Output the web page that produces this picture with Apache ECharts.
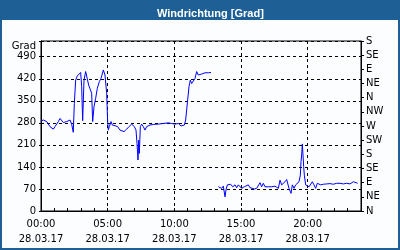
<!DOCTYPE html>
<html>
<head>
<meta charset="utf-8">
<script src="https://cdn.jsdelivr.net/npm/echarts@6/dist/echarts.min.js"></script>
<style>
html,body{margin:0;padding:0;background:#fff;}
#c{width:400px;height:250px;}
</style>
</head>
<body>
<div id="c"></div>
<script>
// Hours since 28.03.17 00:00
var hours = [0,0.175,0.425,0.675,0.8,0.925,1.05,1.175,1.3,1.425,1.55,1.675,1.925,2.175,2.3,2.42,2.5,2.6,2.725,2.85,2.975,3.05,3.125,3.225,3.35,3.475,3.575,3.675,3.8,3.875,3.975,4.1,4.225,4.375,4.5,4.675,4.8,4.925,5.0,5.05,5.125,5.25,5.35,5.55,5.75,5.925,6.05,6.225,6.425,6.6,6.8,7.0,7.125,7.2,7.275,7.325,7.375,7.45,7.55,7.675,7.8,7.925,8.05,8.175,8.425,8.8,9.175,9.3,9.55,9.8,10.05,10.3,10.5,10.625,10.75,10.85,10.925,11.0,11.1,11.2,11.3,11.425,11.55,11.675,11.8,12.05,12.3,12.55,12.75,
13.0,
13.3,13.425,13.55,13.675,13.8,13.875,13.975,14.1,14.225,14.375,14.55,14.675,14.8,14.925,15.05,15.175,15.25,15.375,15.55,15.675,15.8,16.0,16.175,16.3,16.425,16.55,16.675,16.8,16.925,17.05,17.175,17.3,17.425,17.55,17.675,17.8,17.925,18.05,18.175,18.3,18.425,18.5,18.6,18.75,18.85,18.975,19.1,19.225,19.35,19.45,19.5,19.55,19.6,19.65,19.7,19.75,19.85,19.975,20.1,20.225,20.35,20.475,20.6,20.725,20.85,20.975,21.175,21.425,21.675,21.925,22.175,22.425,22.675,22.925,23.175,23.425,23.55,23.75];
// Wind direction in degrees (null = no data)
var degrees = [286,289,284,268,273,260,268,273,284,294,289,281,284,289,276,250,342,416,429,432,440,395,287,416,443,446,400,405,374,284,331,358,390,411,421,448,432,374,284,257,268,284,273,271,268,257,263,252,260,268,276,268,257,215,162,225,183,268,276,268,257,268,263,273,275,276,278,282,280,278,276,278,270,265,273,289,321,353,395,416,405,403,421,443,432,435,439,439,440,
null,
77,83,72,79,45,67,83,77,85,77,83,74,83,85,72,67,77,72,83,74,70,70,72,77,90,77,88,77,72,77,79,77,77,79,77,72,98,83,88,93,100,104,72,56,83,72,83,77,93,114,157,178,213,178,141,114,83,88,77,83,93,83,72,88,93,83,85,86,87,85,88,88,86,88,86,93,88,88];
var compassLabels = ['N','NE','E','SE','S','SW','W','NW','N','NE','E','SE','S'];
var dateLabel = '28.03.17';
var titleText = 'Windrichtung [Grad]';
var unitLabel = 'Grad';

var seriesData = hours.map(function(h,i){ return [h, degrees[i]]; });
function pad(n){ return (n<10?'0':'')+n; }

var chart = echarts.init(document.getElementById('c'), null, {renderer:'canvas'});
var font = 'DejaVu Sans';
chart.setOption({
  animation:false,
  backgroundColor:'#fbfdff',
  title:{
    text:titleText, left:152, top:3,
    textStyle:{color:'#ffffff', fontFamily:'Liberation Sans', fontWeight:'bold', fontSize:11}
  },
  graphic:[
    {type:'rect', z:-1, shape:{x:0,y:0,width:400,height:20}, style:{fill:'#1e6096'}},
    {type:'rect', z:-1, shape:{x:1,y:1,width:398,height:248}, style:{fill:'none', stroke:'#1e6096', lineWidth:2}},
    {type:'text', x:36, y:46, style:{text:unitLabel, align:'right', verticalAlign:'middle', fill:'#000', font:'10px "DejaVu Sans"'}}
  ],
  grid:{left:41, right:39, top:41, bottom:39, show:true, borderColor:'#000', borderWidth:1, backgroundColor:'transparent'},
  xAxis:{
    type:'value', min:0, max:24, interval:5,
    axisLine:{show:true, lineStyle:{color:'#000', width:1}},
    axisTick:{show:true, inside:true, length:3, lineStyle:{color:'#000'}},
    minorTick:{show:true, splitNumber:5, length:3, lineStyle:{color:'#000'}},
    splitLine:{show:true, lineStyle:{color:'#000', type:[3,3], width:1}},
    axisLabel:{
      margin:6, color:'#000', fontFamily:font, fontSize:10, lineHeight:15,
      formatter:function(v){ if(v>23) return ''; return pad(v)+':00\n'+dateLabel; }
    }
  },
  yAxis:[
    {
      type:'value', min:0, max:540, interval:70, position:'left',
      axisLine:{show:true, lineStyle:{color:'#000'}},
      axisTick:{show:true, length:2, lineStyle:{color:'#000'}},
      splitLine:{show:true, lineStyle:{color:'#000', type:[3,3], width:1}},
      axisLabel:{margin:5, color:'#000', fontFamily:font, fontSize:10,
        formatter:function(v){ return v>500 ? '' : String(v); }}
    },
    {
      type:'value', min:0, max:540, interval:45, position:'right',
      axisLine:{show:true, lineStyle:{color:'#000'}},
      axisTick:{show:true, length:3, lineStyle:{color:'#000'}},
      splitLine:{show:false},
      axisLabel:{margin:5, color:'#000', fontFamily:font, fontSize:10,
        formatter:function(v){ return compassLabels[Math.round(v/45)] || ''; }}
    }
  ],
  series:[{
    type:'line', data:seriesData, yAxisIndex:0, showSymbol:false, connectNulls:false,
    lineStyle:{color:'#0000ff', width:1}, itemStyle:{color:'#0000ff'}
  }]
});
</script>
</body>
</html>
